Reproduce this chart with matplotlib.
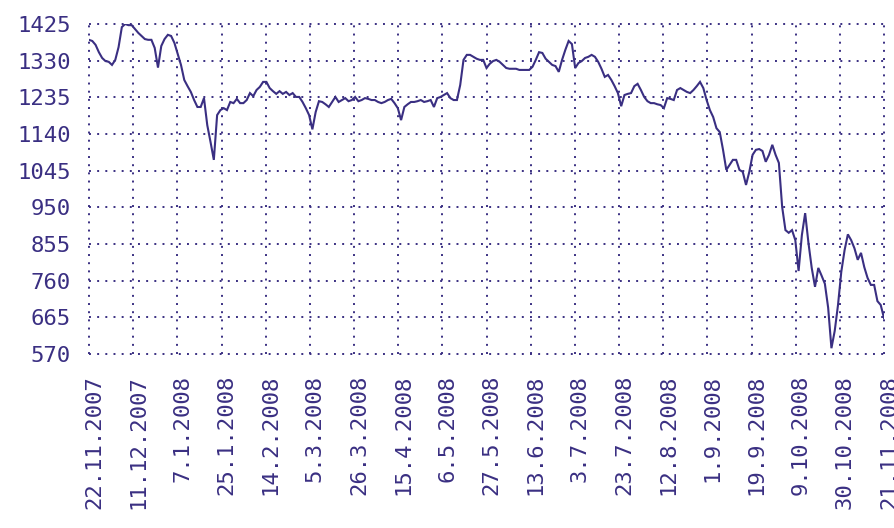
import numpy as np
import matplotlib
matplotlib.use("Agg")
import matplotlib.pyplot as plt
from matplotlib.transforms import ScaledTranslation

# Index values, one per trading day (22.11.2007 - 21.11.2008)
close = [
    1384, 1381, 1371, 1352, 1337, 1329, 1327, 1319, 1332, 1365,
    1417, 1425, 1422, 1422, 1412, 1402, 1394, 1386, 1384, 1384,
    1363, 1312, 1368, 1386, 1397, 1394, 1376, 1347, 1319, 1280,
    1264, 1249, 1228, 1210, 1210, 1233, 1163, 1119, 1073, 1189,
    1202, 1207, 1202, 1223, 1220, 1231, 1220, 1220, 1228, 1246,
    1238, 1254, 1262, 1275, 1275, 1259, 1251, 1244, 1251, 1244,
    1249, 1241, 1246, 1236, 1236, 1223, 1207, 1189, 1152, 1197,
    1225, 1223, 1217, 1210, 1223, 1236, 1223, 1228, 1233, 1225,
    1228, 1236, 1225, 1228, 1233, 1231, 1228, 1228, 1223, 1220,
    1223, 1228, 1231, 1220, 1207, 1176, 1210, 1217, 1223, 1223,
    1225, 1228, 1223, 1225, 1228, 1210, 1233, 1236, 1241, 1246,
    1233, 1228, 1228, 1267, 1332, 1345, 1345, 1340, 1335, 1332,
    1332, 1311, 1322, 1329, 1332, 1327, 1319, 1311, 1309, 1309,
    1309, 1306, 1306, 1306, 1306, 1314, 1332, 1352, 1350, 1335,
    1327, 1319, 1316, 1301, 1332, 1358, 1381, 1373, 1311, 1324,
    1329, 1337, 1340, 1345, 1340, 1327, 1309, 1288, 1293, 1280,
    1264, 1246, 1212, 1241, 1244, 1246, 1264, 1270, 1254, 1236,
    1225, 1220, 1220, 1217, 1215, 1207, 1233, 1231, 1228, 1254,
    1259, 1254, 1249, 1246, 1254, 1264, 1275, 1259, 1228, 1202,
    1184, 1155, 1145, 1099, 1047, 1060, 1073, 1073, 1047, 1042,
    1008, 1042, 1086, 1099, 1101, 1096, 1068, 1086, 1112, 1086,
    1065, 951, 891, 884, 891, 865, 785, 878, 935, 858,
    793, 744, 793, 773, 752, 690, 585, 630, 697, 783,
    839, 880, 865, 844, 814, 832, 795, 767, 749, 749,
    707, 697, 663,
]

date_labels = [
    "22.11.2007", "11.12.2007", "7.1.2008", "25.1.2008", "14.2.2008",
    "5.3.2008", "26.3.2008", "15.4.2008", "6.5.2008", "27.5.2008",
    "13.6.2008", "3.7.2008", "23.7.2008", "12.8.2008", "1.9.2008",
    "19.9.2008", "9.10.2008", "30.10.2008", "21.11.2008",
]

y_ticks = [570, 665, 760, 855, 950, 1045, 1140, 1235, 1330, 1425]

color = "#3a2f82"

fig = plt.figure(figsize=(8.95, 5.28), dpi=100)
ax = fig.add_axes([89 / 895, 1 - 354 / 528, (884 - 89) / 895, (354 - 24) / 528])

n = len(close)
x = np.arange(n)
xmax = n - 1
x_ticks = np.linspace(0, xmax, len(date_labels))

ax.set_xlim(0, xmax)
ax.set_ylim(y_ticks[0], y_ticks[-1])

# dotted grid, including the edges
for yv in y_ticks:
    ax.axhline(yv, color=color, lw=1.4, ls=(0, (1, 3.2)), clip_on=False, zorder=1)
for xv in x_ticks:
    ax.axvline(xv, color=color, lw=1.4, ls=(0, (1, 3.2)), clip_on=False, zorder=1)

ax.plot(x, close, color=color, lw=1.5, zorder=3, solid_joinstyle="miter")

for s in ax.spines.values():
    s.set_visible(False)

mono = "DejaVu Sans Mono"
ax.set_yticks(y_ticks)
ax.set_yticklabels([str(v) for v in y_ticks], fontsize=16, family=mono, color=color)
ax.set_xticks(x_ticks)
ax.set_xticklabels(date_labels, rotation=90, fontsize=16, family=mono, color=color,
                   va="top", ha="center")
ax.tick_params(axis="y", length=0, pad=13)
ax.tick_params(axis="x", length=0, pad=15)
for lab in ax.get_xticklabels():
    lab.set_transform(lab.get_transform() + ScaledTranslation(5 / 100, 0, fig.dpi_scale_trans))

fig.savefig("out.png", dpi=100, facecolor="white")
